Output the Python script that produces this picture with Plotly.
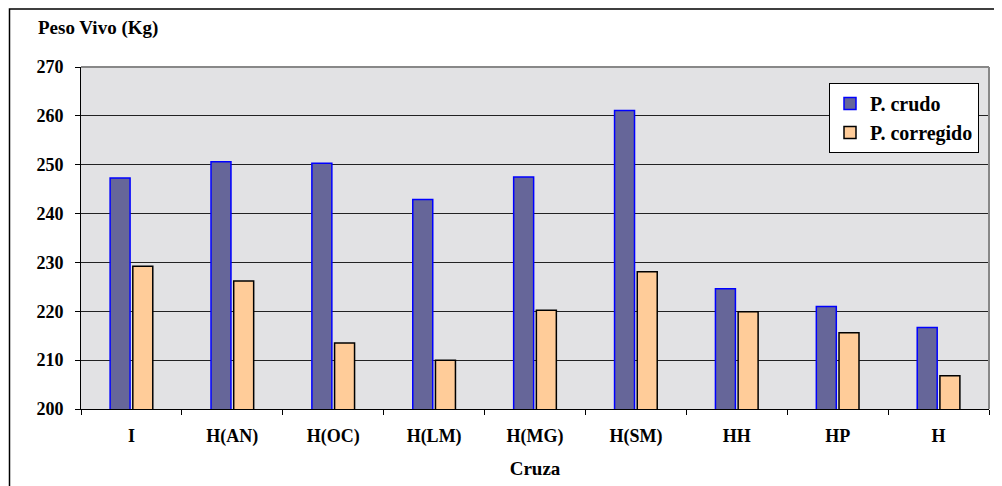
import plotly.graph_objects as go

categories = ["I", "H(AN)", "H(OC)", "H(LM)", "H(MG)", "H(SM)", "HH", "HP", "H"]
p_crudo = [247.3, 250.6, 250.3, 242.9, 247.5, 261.1, 224.6, 221.0, 216.7]
p_corregido = [229.2, 226.2, 213.5, 210.0, 220.2, 228.1, 219.9, 215.6, 206.8]
y_ticks = [200, 210, 220, 230, 240, 250, 260, 270]

OFF = 8  # page body margin
W, H = 1002 - OFF, 486 - OFF
L, R, T, B = 81 - OFF, 13, 67 - OFF, 77
pw, ph = W - L - R, H - T - B

def px_x(x):
    return (x - OFF - L) / pw

def px_y(y):
    return (H - B - (y - OFF)) / ph

font_fam = "Liberation Serif, Times New Roman, serif"

fig = go.Figure()
fig.add_trace(go.Bar(
    x=categories, y=p_crudo, name="P. crudo",
    marker=dict(color="#666699", line=dict(color="#0000FF", width=1.5)),
))
fig.add_trace(go.Bar(
    x=categories, y=p_corregido, name="P. corregido",
    marker=dict(color="#FFCC99", line=dict(color="#000000", width=1.5)),
))

fig.update_layout(
    width=W, height=H,
    margin=dict(l=L, r=R, t=T, b=B, autoexpand=False),
    paper_bgcolor="white",
    plot_bgcolor="#e2e2e4",
    barmode="group",
    bargap=0.55,
    bargroupgap=0.12,
    font=dict(family=font_fam, color="black", size=18),
    legend=dict(
        x=px_x(829), y=px_y(83), xanchor="left", yanchor="top",
        bgcolor="white", bordercolor="black", borderwidth=1,
        font=dict(family=font_fam, size=20, color="black", weight="bold"),
        itemwidth=30, tracegroupgap=4,
    ),
    xaxis=dict(
        showline=True, linecolor="black", linewidth=1,
        ticks="outside", ticklen=5, tickcolor="black", tickson="boundaries",
        tickfont=dict(family=font_fam, size=18, weight="bold"),
        ticklabelstandoff=10,
        showgrid=False, mirror=False,
        title=dict(text="Cruza", font=dict(family=font_fam, size=19, weight="bold"), standoff=16),
    ),
    yaxis=dict(
        range=[200, 270], tickvals=y_ticks,
        showline=True, linecolor="black", linewidth=1,
        ticks="outside", ticklen=5, tickcolor="black",
        tickfont=dict(family=font_fam, size=18, weight="bold"),
        ticklabelstandoff=8,
        showgrid=True, gridcolor="#222222", gridwidth=1,
        zeroline=False,
    ),
    annotations=[dict(
        text="Peso Vivo (Kg)", xref="paper", yref="paper",
        x=px_x(36), y=px_y(28), xanchor="left", yanchor="middle",
        showarrow=False,
        font=dict(family=font_fam, size=19, weight="bold", color="black"),
    )],
    shapes=[
        dict(type="line", xref="paper", yref="paper", x0=0, x1=1, y0=1, y1=1,
             line=dict(color="#888888", width=2)),
        dict(type="line", xref="paper", yref="paper", x0=1, x1=1, y0=0, y1=1,
             line=dict(color="#888888", width=2)),
        dict(type="rect", xref="paper", yref="paper",
             x0=px_x(9.5), x1=px_x(1010), y0=px_y(500), y1=px_y(9),
             line=dict(color="black", width=1.5), layer="below"),
    ],
)

fig.write_html("out.html")
